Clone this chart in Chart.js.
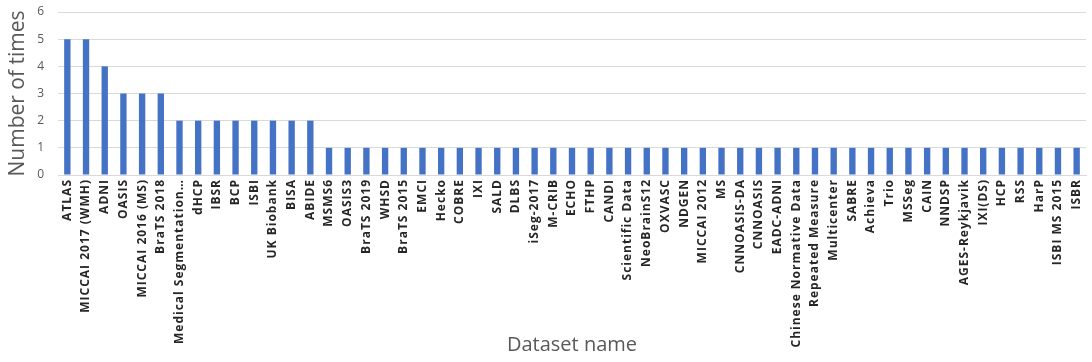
<!DOCTYPE html>
<html>
<head>
<meta charset="utf-8">
<script src="https://cdn.jsdelivr.net/npm/chart.js@4/dist/chart.umd.min.js"></script>
<style>
  html, body { margin: 0; padding: 0; background: #fff; }
  #wrap { width: 1092px; height: 362px; position: relative; }
</style>
</head>
<body>
<div id="wrap"><canvas id="c"></canvas></div>
<script>
const datasetNames = [
  "ATLAS", "MICCAI 2017 (WMH)", "ADNI", "OASIS", "MICCAI 2016 (MS)", "BraTS 2018",
  "Medical Segmentation…", "dHCP", "IBSR", "BCP", "ISBI", "UK Biobank", "BISA", "ABIDE",
  "MSMS6", "OASIS3", "BraTS 2019", "WHSD", "BraTS 2015", "EMCI", "Hecko", "COBRE",
  "IXI", "SALD", "DLBS", "iSeg-2017", "M-CRIB", "ECHO", "FTHP", "CANDI",
  "Scientific Data", "NeoBrainS12", "OXVASC", "NDGEN", "MICCAI 2012", "MS",
  "CNNOASIS-DA", "CNNOASIS", "EADC-ADNI", "Chinese Normative Data", "Repeated Measure",
  "Multicenter", "SABRE", "Achieva", "Trio", "MSSeg", "CAIN", "NNDSP",
  "AGES-Reykjavik", "IXI(DS)", "HCP", "RSS", "HarP", "ISBI MS 2015", "ISBR"
];
const timesUsed = [
  5, 5, 4, 3, 3, 3,
  2, 2, 2, 2, 2, 2, 2, 2,
  1, 1, 1, 1, 1, 1, 1, 1,
  1, 1, 1, 1, 1, 1, 1, 1,
  1, 1, 1, 1, 1, 1,
  1, 1, 1, 1, 1,
  1, 1, 1, 1, 1, 1, 1,
  1, 1, 1, 1, 1, 1, 1
];
const yTicks = [0, 1, 2, 3, 4, 5, 6];

// keep the plot area fixed: no extra room reserved for overhanging tick labels
function noOverhang(axis) {
  axis.paddingLeft = 0;
  axis.paddingRight = 0;
  axis.paddingTop = 0;
  axis.paddingBottom = 0;
}

new Chart(document.getElementById('c'), {
  type: 'bar',
  data: {
    labels: datasetNames,
    datasets: [{
      data: timesUsed,
      backgroundColor: '#4472C4',
      barPercentage: 0.34,
      categoryPercentage: 1.0
    }]
  },
  options: {
    responsive: true,
    maintainAspectRatio: false,
    animation: false,
    layout: { padding: { top: 12, right: 6, left: 5, bottom: 5 } },
    plugins: { legend: { display: false }, tooltip: { enabled: false } },
    scales: {
      x: {
        afterFit: (axis) => {
          noOverhang(axis);
          axis.height = 182;
          // dataset names are drawn slightly letter-spaced
          if (!axis._spacedLabels) {
            const base = axis.drawLabels;
            axis.drawLabels = function (area) {
              const ctx = this.ctx;
              ctx.save();
              ctx.letterSpacing = '1px';
              base.call(this, area);
              ctx.restore();
            };
            axis._spacedLabels = true;
          }
        },
        grid: { display: false, drawTicks: false },
        border: { color: '#d9d9d9' },
        ticks: {
          autoSkip: false,
          maxRotation: 90,
          minRotation: 90,
          padding: 4,
          color: '#262626',
          font: { family: "'Open Sans', sans-serif", size: 12, weight: 'bold' }
        },
        title: {
          display: true,
          text: 'Dataset name',
          color: '#595959',
          padding: { top: 8, bottom: 0 },
          font: { family: "'Open Sans', sans-serif", size: 20 }
        }
      },
      y: {
        afterFit: (axis) => {
          noOverhang(axis);
          axis.width = 53;
        },
        min: 0,
        max: 6,
        afterBuildTicks: (axis) => { axis.ticks = yTicks.map(v => ({ value: v })); },
        grid: { color: '#d9d9d9', drawTicks: false },
        border: { display: false },
        ticks: {
          padding: 14,
          color: '#595959',
          font: { family: "'Open Sans', sans-serif", size: 12 }
        },
        title: {
          display: true,
          text: 'Number of times',
          color: '#595959',
          padding: { top: 0, bottom: 8 },
          font: { family: "'Open Sans', sans-serif", size: 21 }
        }
      }
    }
  }
});
</script>
</body>
</html>
